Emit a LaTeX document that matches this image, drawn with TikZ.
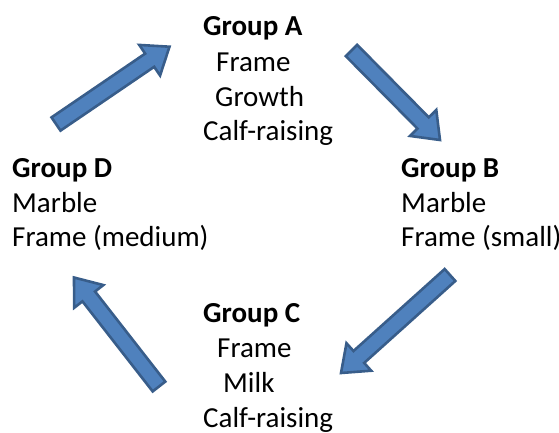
\documentclass[tikz,border=0pt]{standalone}
\usepackage{fontspec}
\setmainfont{Carlito}
\usetikzlibrary{calc}
\definecolor{arrfill}{HTML}{4F81BD}
\definecolor{arrline}{HTML}{385D8A}
\tikzset{
  lbl/.style={anchor=base west, inner sep=0pt, font=\fontsize{29}{35}\selectfont},
  grp/.style={lbl, font=\fontsize{29}{35}\selectfont\bfseries},
  blockarr/.style={fill=arrfill, draw=arrline, line width=2.6pt, line join=miter}
}
\newcommand\blockarrow[2]{%
  \path ($(#2)!24pt!(#1)$) coordinate (bb);
  \draw[blockarr] ($(#1)!8pt!90:(#2)$) -- ($(bb)!8pt!90:(#2)$) -- ($(bb)!18.5pt!90:(#2)$)
    -- (#2) -- ($(bb)!18.5pt!-90:(#2)$) -- ($(bb)!8pt!-90:(#2)$) -- ($(#1)!8pt!-90:(#2)$) -- cycle;
}
\begin{document}
\begin{tikzpicture}[x=1pt,y=-1pt]
\useasboundingbox (0,0) rectangle (559,432);
% Group A
\node[grp] (a0) at (203,35) {Group A};
\node[lbl] (a1) at (216,71.5) {Frame};
\node[lbl] (a2) at (215,106) {Growth};
\node[lbl] (a3) at (203,140) {Calf-raising};
% Group B
\node[grp] (b0) at (401,177) {Group B};
\node[lbl] (b1) at (401,212) {Marble};
\node[lbl] (b2) at (401,246.5) {Frame (small)};
% Group C
\node[grp] (c0) at (203,322) {Group C};
\node[lbl] (c1) at (217,357) {Frame};
\node[lbl] (c2) at (223,392) {Milk};
\node[lbl] (c3) at (203,427) {Calf-raising};
% Group D
\node[grp] (d0) at (12,177) {Group D};
\node[lbl] (d1) at (12,212) {Marble};
\node[lbl] (d2) at (12,246.5) {Frame (medium)};
% arrows
\coordinate (t1) at (56,124);   \coordinate (h1) at (169.5,46.7);
\coordinate (t2) at (351.5,50.5); \coordinate (h2) at (440,140);
\coordinate (t3) at (450,275);  \coordinate (h3) at (341,373);
\coordinate (t4) at (159,386.5); \coordinate (h4) at (74,277.5);
\blockarrow{t1}{h1}
\blockarrow{t2}{h2}
\blockarrow{t3}{h3}
\blockarrow{t4}{h4}
\end{tikzpicture}
\end{document}
